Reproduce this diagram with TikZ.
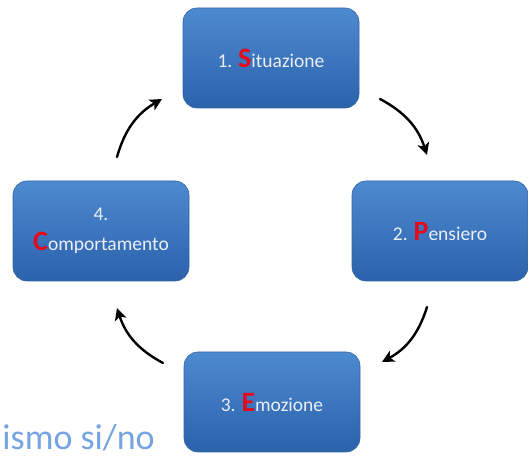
\documentclass[tikz,border=0pt]{standalone}
\usepackage{fontspec}
\setmainfont{Carlito}
\usetikzlibrary{arrows.meta}
\definecolor{boxtop}{RGB}{78,138,208}
\definecolor{boxbot}{RGB}{42,98,172}
\definecolor{boxedge}{RGB}{52,100,165}
\definecolor{initred}{RGB}{228,10,25}
\definecolor{boxtext}{RGB}{236,238,246}
\definecolor{noteblue}{RGB}{118,163,226}
\newcommand{\initial}[1]{{\fontsize{28}{28}\selectfont\bfseries\color{initred}#1}}
\begin{document}
\begin{tikzpicture}[x=1pt, y=1pt, >={Stealth[length=12pt, width=12pt, inset=3pt]},
  stepbox/.style={rounded corners=14pt, minimum width=176pt, minimum height=100pt,
    top color=boxtop, bottom color=boxbot, draw=boxedge, line width=0.6pt,
    text=boxtext, font=\fontsize{19.5}{30}\selectfont, align=center},
  cyclearrow/.style={->, line width=2.4pt, bend left=22, line cap=round}]
  \useasboundingbox (0,0) rectangle (528,461);
  % the four steps
  \node[stepbox] (sit) at (271,403) {1. \initial{S}ituazione};
  \node[stepbox] (pen) at (440,230) {2. \initial{P}ensiero};
  \node[stepbox] (emo) at (272,59) {3. \initial{E}mozione};
  \node[stepbox] (com) at (101,230) {4.\\\initial{C}omportamento};
  % arrow ends between the boxes
  \coordinate (sitpen) at (380,362);
  \coordinate (pensit) at (427,306);
  \coordinate (penemo) at (427,154);
  \coordinate (emopen) at (382,99);
  \coordinate (emocom) at (163,98);
  \coordinate (comemo) at (117,153);
  \coordinate (comsit) at (117,304);
  \coordinate (sitcom) at (162,362);
  % clockwise cycle
  \foreach \a/\b in {sitpen/pensit, penemo/emopen, emocom/comemo, comsit/sitcom}
    \draw[cyclearrow] (\a) to (\b);
  % leftover text, bottom left
  \node[anchor=base east, text=noteblue, font=\fontsize{36}{36}\selectfont, inner sep=0pt] (note) at (155,12) {ismo si/no};
\end{tikzpicture}
\end{document}
